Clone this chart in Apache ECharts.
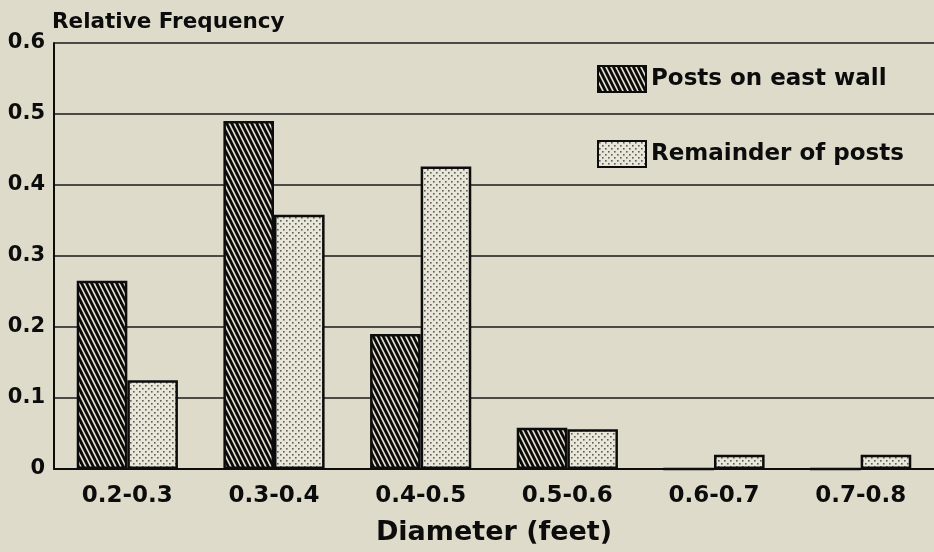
<!DOCTYPE html>
<html>
<head>
<meta charset="utf-8">
<script src="https://cdn.jsdelivr.net/npm/echarts@6/dist/echarts.min.js"></script>
<style>
  html, body { margin: 0; padding: 0; background: #dedbcb; }
  #chart { width: 934px; height: 552px; }
</style>
</head>
<body>
<div id="chart"></div>
<script>
// Diameter classes (feet)
const categories = ['0.2-0.3', '0.3-0.4', '0.4-0.5', '0.5-0.6', '0.6-0.7', '0.7-0.8'];
// Relative frequency of post diameters
const eastWall = [0.265, 0.49, 0.19, 0.058, 0, 0];
const remainder = [0.125, 0.358, 0.426, 0.056, 0.02, 0.02];
// Y axis tick labels, indexed by tenths
const yTickLabels = ['0', '0.1', '0.2', '0.3', '0.4', '0.5', '0.6'];

const FONT = '"DejaVu Sans", "Liberation Sans", sans-serif';
const INK = '#0c0c0c';

// Diagonal hatch fill (stripes running down to the right)
function makeHatch() {
  const c = document.createElement('canvas');
  c.width = 20; c.height = 20;
  const g = c.getContext('2d');
  g.fillStyle = '#e2dfcf';
  g.fillRect(0, 0, 20, 20);
  g.strokeStyle = '#0a0a0a';
  g.lineWidth = 2.8;
  for (let k = -8; k <= 8; k++) {
    g.beginPath();
    g.moveTo(k * 5 - 5, -10);
    g.lineTo(k * 5 + 15, 30);
    g.stroke();
  }
  return c;
}

// Fine stipple fill
function makeStipple() {
  const c = document.createElement('canvas');
  c.width = 6; c.height = 6;
  const g = c.getContext('2d');
  g.fillStyle = '#e8e5d9';
  g.fillRect(0, 0, 6, 6);
  g.fillStyle = '#5e5c55';
  g.fillRect(1, 1, 1.6, 1.6);
  g.fillRect(4, 4, 1.6, 1.6);
  return c;
}

const chart = echarts.init(document.getElementById('chart'));
chart.setOption({
  backgroundColor: '#dedbcb',
  animation: false,
  textStyle: { fontFamily: FONT, fontWeight: 'bold', color: INK },
  grid: { left: 54, right: 0, top: 43, bottom: 83 },
  legend: {
    orient: 'vertical',
    left: 592,
    top: 60,
    itemWidth: 48,
    itemHeight: 26,
    itemGap: 47,
    icon: 'rect',
    textStyle: { fontFamily: FONT, fontWeight: 'bold', fontSize: 23, color: INK },
    data: ['Posts on east wall', 'Remainder of posts']
  },
  xAxis: {
    type: 'category',
    data: categories,
    axisLine: { lineStyle: { color: INK, width: 2 } },
    axisTick: { show: false },
    axisLabel: { fontFamily: FONT, fontWeight: 'bold', fontSize: 23, color: INK, margin: 16 },
    name: 'Diameter (feet)',
    nameLocation: 'middle',
    nameGap: 50,
    nameTextStyle: { fontFamily: FONT, fontWeight: 'bold', fontSize: 27, color: INK }
  },
  yAxis: {
    type: 'value',
    min: 0,
    max: 0.6,
    interval: 0.1,
    name: 'Relative Frequency',
    nameLocation: 'end',
    nameGap: 10,
    nameTextStyle: { fontFamily: FONT, fontWeight: 'bold', fontSize: 21.5, color: INK, align: 'left', padding: [0, 0, 0, -2] },
    axisLine: { show: true, lineStyle: { color: INK, width: 2 } },
    axisTick: { show: false },
    axisLabel: {
      fontFamily: FONT, fontWeight: 'bold', fontSize: 21, color: INK, margin: 9,
      formatter: v => yTickLabels[Math.round(v * 10)]
    },
    splitLine: { lineStyle: { color: '#1a1a1a', width: 1.5 } }
  },
  series: [
    {
      name: 'Posts on east wall',
      type: 'bar',
      data: eastWall,
      barGap: '0%',
      barCategoryGap: '31%',
      itemStyle: { color: { image: makeHatch(), repeat: 'repeat' }, borderColor: INK, borderWidth: 2.5 }
    },
    {
      name: 'Remainder of posts',
      type: 'bar',
      data: remainder,
      barGap: '0%',
      barCategoryGap: '31%',
      itemStyle: { color: { image: makeStipple(), repeat: 'repeat' }, borderColor: INK, borderWidth: 2.5 }
    }
  ]
});
</script>
</body>
</html>
